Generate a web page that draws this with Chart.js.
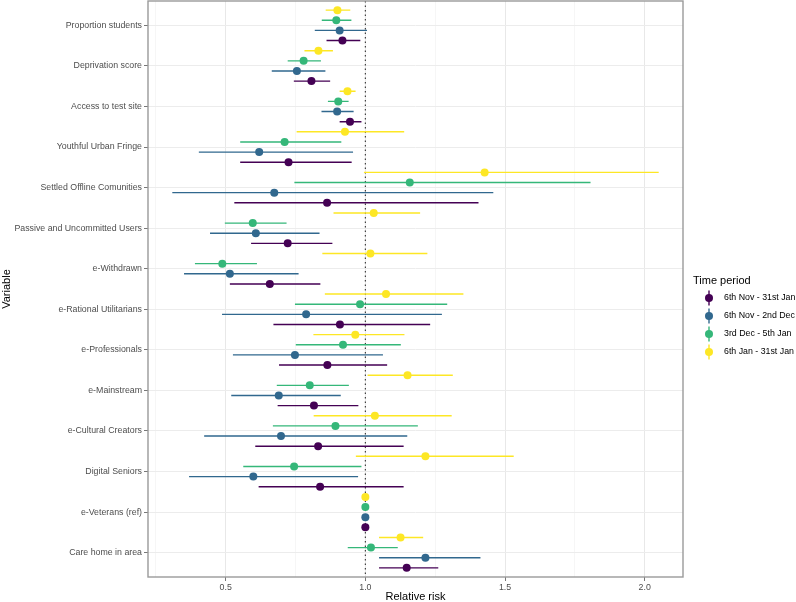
<!DOCTYPE html>
<html>
<head>
<meta charset="utf-8">
<script src="https://cdn.jsdelivr.net/npm/chart.js@4/dist/chart.umd.min.js"></script>
<style>
html,body{margin:0;padding:0;background:#fff;}
#wrap{width:796px;height:602px;position:relative;}
</style>
</head>
<body>
<div id="wrap"><canvas id="c"></canvas></div>
<script>
const categories = ["Proportion students","Deprivation score","Access to test site","Youthful Urban Fringe","Settled Offline Comunities","Passive and Uncommitted Users","e-Withdrawn","e-Rational Utilitarians","e-Professionals","e-Mainstream","e-Cultural Creators","Digital Seniors","e-Veterans (ref)","Care home in area"];

const seriesNames = ["6th Nov - 31st Jan","6th Nov - 2nd Dec","3rd Dec - 5th Jan","6th Jan - 31st Jan"];
const seriesColors = ["#440154","#31688E","#35B779","#FDE725"];

const estNovJan = [0.918,0.807,0.945,0.725,0.863,0.722,0.658,0.909,0.864,0.816,0.831,0.838,1.0,1.148];
const loNovJan  = [0.861,0.744,0.908,0.552,0.531,0.591,0.515,0.671,0.691,0.686,0.606,0.618,1.0,1.049];
const hiNovJan  = [0.982,0.874,0.986,0.951,1.405,0.882,0.839,1.232,1.078,0.975,1.137,1.137,1.0,1.261];

const estNovDec = [0.908,0.755,0.899,0.620,0.674,0.608,0.515,0.788,0.748,0.690,0.698,0.599,1.0,1.215];
const loNovDec  = [0.819,0.665,0.843,0.404,0.309,0.444,0.351,0.487,0.526,0.520,0.423,0.369,1.0,1.049];
const hiNovDec  = [1.006,0.857,0.958,0.956,1.458,0.836,0.761,1.274,1.063,0.912,1.150,0.974,1.0,1.412];

const estDecJan = [0.896,0.779,0.903,0.711,1.159,0.597,0.488,0.981,0.920,0.801,0.893,0.745,1.0,1.020];
const loDecJan  = [0.844,0.722,0.866,0.552,0.746,0.497,0.390,0.748,0.751,0.683,0.669,0.563,1.0,0.937];
const hiDecJan  = [0.950,0.841,0.940,0.914,1.806,0.718,0.612,1.293,1.127,0.941,1.188,0.986,1.0,1.116];

const estJan = [0.900,0.832,0.936,0.927,1.427,1.030,1.018,1.074,0.964,1.151,1.034,1.215,1.0,1.126];
const loJan  = [0.858,0.782,0.908,0.754,0.995,0.886,0.846,0.855,0.814,1.008,0.815,0.966,1.0,1.049];
const hiJan  = [0.946,0.884,0.965,1.139,2.050,1.196,1.222,1.351,1.140,1.313,1.309,1.531,1.0,1.207];

const xTicks = [0.5,1.0,1.5,2.0];
const xMinor = [0.25,0.75,1.25,1.75];
const refValue = 1.0;

const est = [estNovJan, estNovDec, estDecJan, estJan];
const lo = [loNovJan, loNovDec, loDecJan, loJan];
const hi = [hiNovJan, hiNovDec, hiDecJan, hiJan];
const dodge = [0.375, 0.125, -0.125, -0.375];

const FONT = '"Liberation Sans", Arial, Helvetica, sans-serif';
Chart.defaults.font.family = FONT;

const datasets = [];
datasets.push({
  type:'line', data:[{x:refValue,y:-0.6},{x:refValue,y:13.6}],
  borderColor:'#333333', borderWidth:1.1, borderDash:[1.5,3], pointRadius:0, order:5, showLine:true
});
for (let s=0;s<4;s++){
  const seg=[];
  categories.forEach((c,i)=>{
    if (lo[s][i]!==hi[s][i]){
      seg.push({x:lo[s][i], y:i+dodge[s]});
      seg.push({x:hi[s][i], y:i+dodge[s]});
      seg.push({x:null, y:null});
    }
  });
  datasets.push({
    type:'line', data:seg, borderColor:seriesColors[s], borderWidth:1.4,
    pointRadius:0, spanGaps:false, showLine:true, order:3
  });
}
for (let s=0;s<4;s++){
  datasets.push({
    type:'scatter',
    data:categories.map((c,i)=>({x:est[s][i], y:i+dodge[s]})),
    backgroundColor:seriesColors[s], borderColor:seriesColors[s], borderWidth:0,
    pointRadius:4, pointHoverRadius:4, order:1
  });
}

const panelBorder = {
  id:'panelBorder',
  afterDatasetsDraw(chart){
    const {ctx, chartArea:a} = chart;
    ctx.save();
    ctx.strokeStyle='#9a9a9a'; ctx.lineWidth=1.4;
    ctx.strokeRect(a.left, a.top, a.right-a.left, a.bottom-a.top);
    ctx.restore();
  }
};

const legendPlugin = {
  id:'customLegend',
  afterDraw(chart){
    const ctx = chart.ctx;
    ctx.save();
    ctx.textBaseline='middle'; ctx.textAlign='left';
    ctx.fillStyle='#000';
    ctx.font='11px '+FONT;
    ctx.fillText('Time period', 693, 281);
    seriesNames.forEach((n,i)=>{
      const y = 298 + i*18;
      ctx.strokeStyle=seriesColors[i]; ctx.lineWidth=1.4;
      ctx.beginPath(); ctx.moveTo(709, y-7.5); ctx.lineTo(709, y+7.5); ctx.stroke();
      ctx.fillStyle=seriesColors[i];
      ctx.beginPath(); ctx.arc(709, y, 4, 0, Math.PI*2); ctx.fill();
      ctx.fillStyle='#000';
      ctx.font='8.8px '+FONT;
      ctx.fillText(n, 724, y);
    });
    ctx.restore();
  }
};

new Chart(document.getElementById('c'), {
  type:'scatter',
  data:{datasets},
  plugins:[panelBorder, legendPlugin],
  options:{
    responsive:true, maintainAspectRatio:false, animation:false,
    layout:{autoPadding:false, padding:{left:0,right:113,top:1,bottom:0}},
    plugins:{legend:{display:false}, tooltip:{enabled:false}},
    scales:{
      x:{
        type:'linear', min:0.222, max:2.137,
        afterBuildTicks:(sc)=>{ sc.ticks = xMinor.concat(xTicks).sort((a,b)=>a-b).map(v=>({value:v})); },
        afterFit:(sc)=>{ sc.height = 25; sc.paddingLeft = 0; sc.paddingRight = 0; },
        ticks:{
          autoSkip:false, maxRotation:0, padding:1,
          color:'#4d4d4d', font:{size:8.8, family:FONT},
          callback:(v)=> xTicks.includes(v) ? v.toFixed(1) : ''
        },
        grid:{
          color:(ctx)=> (ctx.tick && xTicks.includes(ctx.tick.value)) ? '#e8e8e8' : '#f2f2f2',
          lineWidth:(ctx)=> (ctx.tick && xTicks.includes(ctx.tick.value)) ? 1 : 0.7,
          tickColor:(ctx)=> (ctx.tick && xTicks.includes(ctx.tick.value)) ? '#777777' : 'rgba(0,0,0,0)',
          tickLength:4, drawTicks:true
        },
        border:{display:false},
        title:{display:true, text:'Relative risk', color:'#000', font:{size:11, family:FONT}, padding:{top:0,bottom:-2}}
      },
      y:{
        type:'linear', reverse:true, min:-0.6, max:13.6,
        afterBuildTicks:(sc)=>{ sc.ticks = categories.map((c,i)=>({value:i})); },
        afterFit:(sc)=>{ sc.width = 148; sc.paddingTop = 0; sc.paddingBottom = 0; },
        ticks:{
          autoSkip:false, padding:2, color:'#4d4d4d', font:{size:8.8, family:FONT},
          callback:(v)=> categories[v]
        },
        grid:{color:'#ececec', lineWidth:1, tickColor:'#777777', tickLength:4},
        border:{display:false},
        title:{display:true, text:'Variable', color:'#000', font:{size:11, family:FONT}, padding:{top:0,bottom:0}}
      }
    }
  }
});
</script>
</body>
</html>
